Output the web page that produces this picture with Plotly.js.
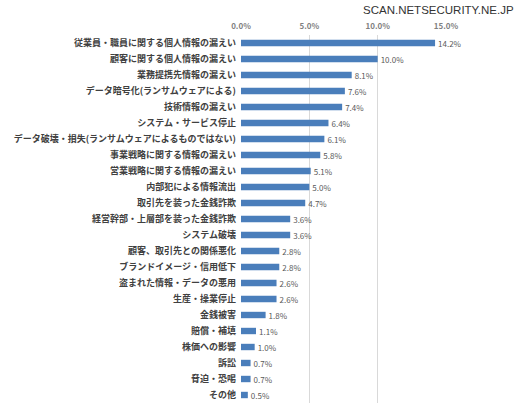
<!DOCTYPE html>
<html>
<head>
<meta charset="utf-8">
<script src="https://cdn.plot.ly/plotly-3.0.1.min.js"></script>
<style>html,body{margin:0;padding:0;background:#fff;}#chart{width:527px;height:408px;}</style>
</head>
<body>
<div id="chart"></div>
<script>
const categories = [
  "従業員・職員に関する個人情報の漏えい",
  "顧客に関する個人情報の漏えい",
  "業務提携先情報の漏えい",
  "データ暗号化(ランサムウェアによる)",
  "技術情報の漏えい",
  "システム・サービス停止",
  "データ破壊・損失(ランサムウェアによるものではない)",
  "事業戦略に関する情報の漏えい",
  "営業戦略に関する情報の漏えい",
  "内部犯による情報流出",
  "取引先を装った金銭詐欺",
  "経営幹部・上層部を装った金銭詐欺",
  "システム破壊",
  "顧客、取引先との関係悪化",
  "ブランドイメージ・信用低下",
  "盗まれた情報・データの悪用",
  "生産・操業停止",
  "金銭被害",
  "賠償・補填",
  "株価への影響",
  "訴訟",
  "脅迫・恐喝",
  "その他"
];
const values = [14.2, 10.0, 8.1, 7.6, 7.4, 6.4, 6.1, 5.8, 5.1, 5.0, 4.7, 3.6, 3.6, 2.8, 2.8, 2.6, 2.6, 1.8, 1.1, 1.0, 0.7, 0.7, 0.5];
const tickValues = [0, 5, 10, 15];
const tickLabels = ["0.0%", "5.0%", "10.0%", "15.0%"];
const watermark = "SCAN.NETSECURITY.NE.JP";

const jp = '"Noto Sans CJK JP", "Noto Sans", sans-serif';

const trace = {
  type: 'bar',
  orientation: 'h',
  x: values,
  y: categories,
  marker: {color: '#4a7ebb'},
  texttemplate: '%{x:.1f}%',
  textposition: 'outside',
  constraintext: 'none',
  cliponaxis: false,
  textfont: {family: jp, size: 8, color: '#595959'},
  outsidetextfont: {family: jp, size: 8, color: '#595959'},
  hoverinfo: 'none'
};

const layout = {
  width: 527,
  height: 408,
  margin: {l: 241, r: 81, t: 35, b: 5},
  paper_bgcolor: '#ffffff',
  plot_bgcolor: '#ffffff',
  bargap: 0.6,
  showlegend: false,
  xaxis: {
    side: 'top',
    range: [0, 15],
    tickmode: 'array',
    tickvals: tickValues,
    ticktext: tickLabels,
    showgrid: true,
    gridcolor: '#d9d9d9',
    gridwidth: 1,
    zeroline: false,
    showline: false,
    ticks: '',
    ticklabelstandoff: 3,
    tickfont: {family: jp, size: 8, color: '#7f7f7f', weight: 'bold'},
    fixedrange: true
  },
  yaxis: {
    autorange: 'reversed',
    showgrid: false,
    zeroline: false,
    showline: false,
    ticks: '',
    ticklabelstandoff: 4,
    tickfont: {family: jp, size: 9, color: '#404040', weight: 'bold'},
    fixedrange: true
  },
  annotations: [{
    text: watermark,
    xref: 'paper', yref: 'paper',
    x: 1.341, y: 1.069,
    xanchor: 'right', yanchor: 'middle',
    showarrow: false,
    font: {family: '"Liberation Sans", Arial, sans-serif', size: 11.5, color: '#333333'}
  }]
};

Plotly.newPlot('chart', [trace], layout, {displayModeBar: false, staticPlot: true});
</script>
</body>
</html>
